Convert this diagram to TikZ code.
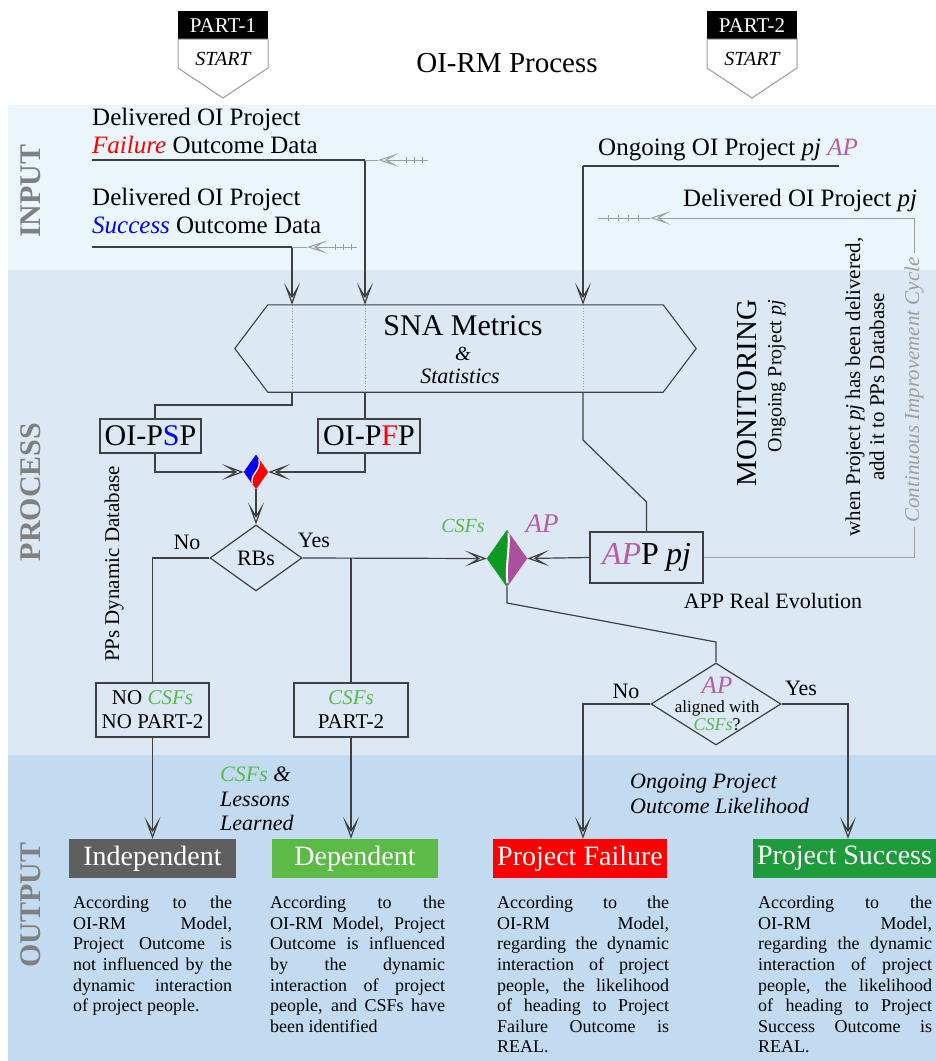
\documentclass[tikz,border=0pt]{standalone}
\usepackage{fontspec}
\setmainfont{Liberation Serif}
\newfontfamily\tms{Liberation Serif}
\usetikzlibrary{arrows.meta,shapes.geometric,calc}
\definecolor{inbg}{HTML}{EAF5FC}
\definecolor{prbg}{HTML}{DCE9F5}
\definecolor{outbg}{HTML}{C3DBF0}
\definecolor{lc}{HTML}{3F3F3F}
\definecolor{gc}{HTML}{9E9E9E}
\definecolor{lbl}{HTML}{808080}
\definecolor{csfg}{HTML}{57B94A}
\definecolor{apm}{HTML}{B45DAB}
\definecolor{dgreen}{HTML}{0E9A22}
\definecolor{dpurp}{HTML}{A8529E}
\definecolor{indc}{HTML}{5F5F5F}
\definecolor{depc}{HTML}{5CBA47}
\definecolor{failc}{HTML}{FF0000}
\definecolor{succc}{HTML}{1E9B3A}
\newcommand{\fsz}[1]{\tms\fontsize{#1}{#1}\selectfont}
\newcommand{\csf}{\textcolor{csfg}{\textit{CSFs}}}
\newcommand{\apt}{\textcolor{apm}{\textit{AP}}}
\newcommand{\jst}{\tolerance=10000\relax\hyphenpenalty=10000\relax}
\begin{document}
\begin{tikzpicture}[x=1pt,y=-1pt,
  ln/.style={draw=lc,line width=1.2pt},
  fl/.style={ln,-{Stealth[open,length=22pt,width=16pt,inset=13pt]}},
  gl/.style={draw=gc,line width=1pt},
  gfl/.style={gl,-{Stealth[open,length=20pt,width=13pt,inset=11pt]}},
  tick/.style={draw=gc,line width=0.7pt},
  box/.style={draw=lc,line width=1.1pt,rectangle,inner sep=0pt},
  txt/.style={inner sep=0pt},
  lab/.style={inner sep=0pt,rotate=90,text=lbl,font=\fsz{30}\bfseries},
  outbox/.style={rectangle,inner sep=0pt,text=white,font=\fsz{28},minimum height=39pt},
  desc/.style={anchor=north west,inner sep=0pt,align=justify,
     font=\tms\fontsize{18}{20.6}\selectfont}
]
\useasboundingbox (0,0) rectangle (936,1061);
\fill[white] (0,0) rectangle (936,1061);
\fill[inbg] (8,105) rectangle (936,270);
\fill[prbg] (8,270) rectangle (936,755);
\fill[outbg] (8,755) rectangle (936,1061);

% band labels
\node[lab] (linput) at (31,191) {INPUT};
\node[lab] (lprocess) at (31,492) {PROCESS};
\node[lab] (loutput) at (31,905) {OUTPUT};

% title
\node[txt,anchor=base,font=\fsz{29}] (title) at (507,72) {OI-RM Process};

% part badges
\foreach \n/\cx in {1/223,2/752}{
  \fill[black] (\cx-45,11) rectangle (\cx+45,39);
  \draw[draw=gc,fill=white,line width=1pt] (\cx-45,39) -- (\cx+45,39) -- (\cx+45,68) -- (\cx,98) -- (\cx-45,68) -- cycle;
  \node[txt,text=white,font=\fsz{21}] (p\n) at (\cx,26) {PART-\n};
  \node[txt,font=\fsz{20}\itshape] (s\n) at (\cx,59) {START};
}

% input texts
\node[txt,anchor=base west,font=\fsz{25}] (f1) at (92,125) {Delivered OI Project};
\node[txt,anchor=base west,font=\fsz{25}] (f2) at (92,153) {\textcolor{red}{\textit{Failure}} Outcome Data};
\node[txt,anchor=base west,font=\fsz{25}] (s1t) at (92,205) {Delivered OI Project};
\node[txt,anchor=base west,font=\fsz{25}] (s2t) at (92,233) {\textcolor{blue}{\textit{Success}} Outcome Data};
\node[txt,anchor=base west,font=\fsz{25}] (o1) at (598,155) {Ongoing OI Project \textit{pj} \apt};
\node[txt,anchor=base west,font=\fsz{25}] (d1) at (683,206) {Delivered OI Project \textit{pj}};

\coordinate (fj) at (365,160);
\coordinate (sj) at (292,247);
\coordinate (oj) at (583,166);

% SNA box
\node[inner sep=0pt,minimum width=395pt,minimum height=87pt] (sna) at (465.5,348.5) {};
\foreach \x in {292,365,583} \draw[gc,dotted,line width=0.8pt] (\x,305) -- (\x,392);
\draw[ln,line width=1.1pt] (sna.north west) -- (sna.north east) -- ($(sna.east)+(33,0)$) -- (sna.south east) -- (sna.south west) -- ($(sna.west)+(-33,0)$) -- cycle;
\node[txt,anchor=base,font=\fsz{30}] (snat) at (463,335) {SNA Metrics};
\node[txt,anchor=base,font=\fsz{20}\itshape] (amp) at (463,360) {\&};
\node[txt,anchor=base,font=\fsz{22}\itshape] (stat) at (460,383) {Statistics};

% input connectors
\draw[ln] (f2.base west |- fj) -- (fj);
\draw[fl] (fj) -- (fj |- sna.north);
\draw[gfl] (428,160) -- (378,160);
\draw[gl] (378,160) -- (fj);
\foreach \x in {406,414,422} \draw[tick] (\x,157) -- (\x,163);

\draw[ln] (s2t.base west |- sj) -- (sj);
\draw[fl] (sj) -- (sj |- sna.north);
\draw[gfl] (357,247) -- (307,247);
\draw[gl] (307,247) -- (sj);
\foreach \x in {335,343,351} \draw[tick] (\x,244) -- (\x,250);

\draw[ln] (839,166) -- (oj);
\draw[fl] (oj) -- (oj |- sna.north);

% OI-PSP / OI-PFP
\node[box,minimum width=101pt,minimum height=34pt,font=\fsz{30}] (psp) at (150.5,436) {OI-P\textcolor{blue}{S}P};
\node[box,minimum width=102pt,minimum height=34pt,font=\fsz{30}] (pfp) at (369,436) {OI-P\textcolor{red}{F}P};
\coordinate (pspx) at (155,405);
\draw[ln] (sj |- sna.south) -- (292,405) -- (pspx) -- (pspx |- psp.north);
\draw[ln] (fj |- sna.south) -- (fj |- pfp.north);

% small split diamond
\node[diamond,minimum width=24pt,minimum height=34pt,inner sep=0pt] (sd) at (256,472) {};
\fill[red] (sd.north) -- (sd.east) -- (sd.south) -- (sd.west) -- cycle;
\fill[blue] (sd.north) -- (sd.west) -- (252.5,484) .. controls (249,474) and (262,471) .. (258.8,459) -- cycle;
\draw[white,line width=1.2pt] (252.5,484) .. controls (249,474) and (262,471) .. (258.8,459);
\draw[fl] (pspx |- psp.south) -- (pspx |- sd.west) -- (sd.west);
\draw[fl] (fj |- pfp.south) -- (fj |- sd.east) -- (sd.east);

% RBs
\node[diamond,draw=lc,line width=1.2pt,minimum width=92pt,minimum height=66pt,inner sep=0pt,font=\fsz{22}] (rbs) at (256,558) {RBs};
\draw[fl] (sd.south) -- (rbs.north);
\node[txt,anchor=base,font=\fsz{22}] (no1) at (187,549) {No};
\node[txt,anchor=base,font=\fsz{22}] (yes1) at (314,547) {Yes};

\node[box,minimum width=113pt,minimum height=54pt,align=center,font=\tms\fontsize{21}{24}\selectfont] (nocsf) at (152.5,710) {NO \csf\\NO PART-2};
\node[box,minimum width=114pt,minimum height=54pt,align=center,font=\tms\fontsize{21}{24}\selectfont] (csf2) at (351,710) {\csf\\PART-2};

% big split diamond
\node[diamond,minimum width=40pt,minimum height=57pt,inner sep=0pt] (bd) at (507,558.5) {};
\fill[dgreen] (bd.north) -- (bd.west) -- (bd.south) -- cycle;
\fill[dpurp] (bd.north) -- (bd.east) -- (bd.south) -- cycle;
\draw[white,line width=2pt] ($(bd.north)+(1.5,3)$) .. controls (510,550) and (505,568) .. ($(bd.south)+(0.5,-4)$);
\node[txt,anchor=base,font=\fsz{20}\itshape,text=csfg] (bdc) at (463,532) {CSFs};
\node[txt,anchor=base,font=\fsz{27}\itshape,text=apm] (bda) at (542,532) {AP};

\coordinate (rbl) at (nocsf.north |- rbs.west);
\coordinate (rbr) at (csf2.north |- rbs.east);
\draw[ln] (rbs.west) -- (rbl) -- (nocsf.north);
\draw[fl] (rbs.east) -- (bd.west);
\draw[ln] (rbr) -- (csf2.north);

% APP pj
\node[box,minimum width=113pt,minimum height=51pt,font=\fsz{32}] (app) at (646.5,557.5) {\apt P\hspace{7pt}\textit{pj}};
\draw[fl] (app.west) -- (bd.east);
\draw[ln] (app.north) -- (646.5,502) -- (583,440) -- (oj |- sna.south);
\node[txt,anchor=base,font=\fsz{22}] (are) at (773,608) {APP Real Evolution};

% monitoring + feedback
\node[txt,rotate=90,font=\fsz{29}] (mon) at (747,393) {MONITORING};
\node[txt,rotate=90,font=\fsz{20}] (mon2) at (777,376) {Ongoing Project \textit{pj}};
\node[txt,rotate=90,align=center,font=\tms\fontsize{21}{24}\selectfont] (when) at (865,387) {when Project \textit{pj} has been delivered,\\add it to PPs Database};
\node[inner sep=4pt,rotate=90,text=gc,font=\fsz{21}\itshape] (cic) at (914,390) {Continuous Improvement Cycle};
\draw[gl] (app.east) -- (cic.west |- app.east) -- (cic.west);
\draw[gfl] (cic.east) -- (914,218) -- (650,218);
\draw[gl] (650,218) -- (598,218);
\foreach \x in {608,618,628,638} \draw[tick] (\x,215) -- (\x,221);

\node[txt,rotate=90,font=\fsz{21}] (ppdb) at (114,564) {PPs Dynamic Database};

% AP aligned diamond
\node[diamond,draw=lc,line width=1.2pt,minimum width=130pt,minimum height=82pt,inner sep=0pt] (apd) at (716,704) {};
\node[txt,anchor=base,font=\fsz{25}\itshape,text=apm] (apd1) at (717,693) {AP};
\node[txt,anchor=base,font=\fsz{17}] (apd2) at (717,712) {aligned with};
\node[txt,anchor=base,font=\fsz{18}] (apd3) at (717,730) {\csf?};
\draw[ln] (bd.south) -- (507,603) -- (716,642) -- (apd.north);
\node[txt,anchor=base,font=\fsz{22}] (no2) at (626,698) {No};
\node[txt,anchor=base,font=\fsz{22}] (yes2) at (801,695) {Yes};

% outputs
\node[outbox,fill=indc,minimum width=167pt] (ind) at (152.5,858.5) {Independent};
\node[outbox,fill=depc,minimum width=166pt] (dep) at (355,858.5) {Dependent};
\node[outbox,fill=failc,minimum width=174pt] (fail) at (580,858.5) {Project Failure};
\node[outbox,fill=succc,minimum width=183pt] (succ) at (844.5,858.5) {Project Success};

\coordinate (fx) at (583,704);
\coordinate (sx) at (848,704);
\draw[fl] (nocsf.south) -- (nocsf.south |- ind.north);
\draw[fl] (csf2.south) -- (csf2.south |- dep.north);
\draw[fl] (apd.west) -- (fx) -- (fx |- fail.north);
\draw[fl] (apd.east) -- (sx) -- (sx |- succ.north);

\node[txt,anchor=base west,font=\fsz{22}\itshape] (les1) at (220,781) {\textcolor{csfg}{CSFs} \&};
\node[txt,anchor=base west,font=\fsz{22}\itshape] (les2) at (220,806) {Lessons};
\node[txt,anchor=base west,font=\fsz{22}\itshape] (les3) at (220,830) {Learned};
\node[txt,anchor=base west,font=\fsz{22}\itshape] (ol1) at (630,788) {Ongoing Project};
\node[txt,anchor=base west,font=\fsz{22}\itshape] (ol2) at (630,813) {Outcome Likelihood};

% descriptions
\node[desc,text width=159pt] (dind) at (73,896) {\jst According to the\linebreak \mbox{OI-RM} Model,\linebreak Project Outcome is\linebreak not influenced by the\linebreak dynamic interaction\linebreak of project people.};
\node[desc,text width=175pt] (ddep) at (270,896) {\jst According to the\linebreak \mbox{OI-RM} Model, Project\linebreak Outcome is influenced\linebreak by the dynamic\linebreak interaction of project\linebreak people, and CSFs have\linebreak been identified};
\node[desc,text width=172pt] (dfail) at (497,896) {\jst According to the\linebreak \mbox{OI-RM} Model,\linebreak regarding the dynamic\linebreak interaction of project\linebreak people, the likelihood\linebreak of heading to Project\linebreak Failure Outcome is\linebreak REAL.};
\node[desc,text width=174pt] (dsucc) at (758,896) {\jst According to the\linebreak \mbox{OI-RM} Model,\linebreak regarding the dynamic\linebreak interaction of project\linebreak people, the likelihood\linebreak of heading to Project\linebreak Success Outcome is\linebreak REAL.};
\end{tikzpicture}
\end{document}
